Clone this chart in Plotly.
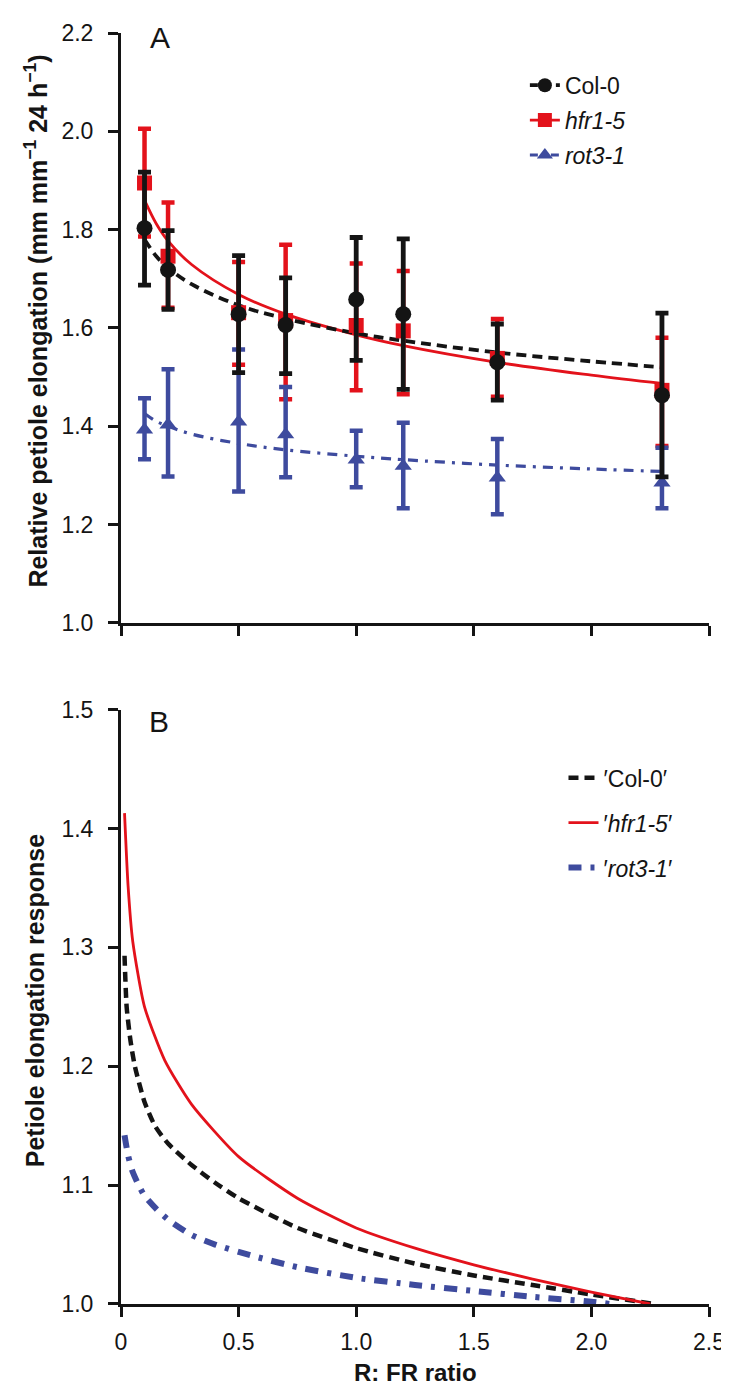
import plotly.graph_objects as go

# ---------------- Panel A data ----------------
r_fr = [0.1, 0.2, 0.5, 0.7, 1.0, 1.2, 1.6, 2.3]

col0_mean = [1.803, 1.718, 1.628, 1.606, 1.658, 1.628, 1.530, 1.463]
col0_upper = [1.917, 1.798, 1.747, 1.702, 1.784, 1.781, 1.608, 1.630]
col0_lower = [1.687, 1.638, 1.509, 1.507, 1.534, 1.475, 1.453, 1.297]

hfr_mean = [1.895, 1.746, 1.631, 1.615, 1.605, 1.594, 1.538, 1.473]
hfr_upper = [2.005, 1.855, 1.734, 1.769, 1.731, 1.716, 1.618, 1.580]
hfr_lower = [1.786, 1.641, 1.525, 1.455, 1.473, 1.465, 1.460, 1.360]

rot_mean = [1.393, 1.403, 1.409, 1.383, 1.332, 1.319, 1.295, 1.285]
rot_upper = [1.457, 1.516, 1.556, 1.480, 1.391, 1.407, 1.374, 1.356]
rot_lower = [1.333, 1.298, 1.267, 1.296, 1.276, 1.233, 1.221, 1.233]

# fitted curves in panel A
fit_x = [0.1, 0.15, 0.2, 0.3, 0.5, 0.7, 1.0, 1.2, 1.6, 2.0, 2.3]
col0_fit = [1.780, 1.746, 1.722, 1.689, 1.646, 1.619, 1.589, 1.574, 1.550, 1.532, 1.520]
hfr_fit = [1.860, 1.812, 1.777, 1.729, 1.668, 1.628, 1.586, 1.564, 1.530, 1.504, 1.487]
rot_fit = [1.426, 1.410, 1.400, 1.384, 1.365, 1.352, 1.339, 1.332, 1.321, 1.313, 1.308]

# ---------------- Panel B data ----------------
b_col0_x = [0.015, 0.024, 0.04, 0.059, 0.1, 0.144, 0.2, 0.3, 0.4, 0.5, 0.75, 1.0, 1.25, 1.5, 1.75, 2.0, 2.27]
b_col0_y = [1.293, 1.250, 1.222, 1.200, 1.170, 1.150, 1.135, 1.117, 1.102, 1.089, 1.064, 1.047, 1.034, 1.024, 1.016, 1.008, 1.000]

b_hfr_x = [0.015, 0.03, 0.05, 0.1, 0.186, 0.3, 0.5, 0.75, 1.0, 1.25, 1.5, 1.75, 2.0, 2.25]
b_hfr_y = [1.413, 1.352, 1.305, 1.250, 1.205, 1.168, 1.124, 1.089, 1.064, 1.047, 1.033, 1.021, 1.010, 1.000]

b_rot_x = [0.015, 0.03, 0.05, 0.075, 0.1, 0.15, 0.2, 0.3, 0.4, 0.55, 0.75, 1.0, 1.25, 1.5, 1.75, 2.0, 2.08]
b_rot_y = [1.142, 1.125, 1.111, 1.100, 1.091, 1.080, 1.071, 1.058, 1.050, 1.041, 1.031, 1.022, 1.016, 1.011, 1.006, 1.002, 1.000]

a_yticks = [1.0, 1.2, 1.4, 1.6, 1.8, 2.0, 2.2]
b_yticks = [1.0, 1.1, 1.2, 1.3, 1.4, 1.5]
x_ticks = [0, 0.5, 1.0, 1.5, 2.0, 2.5]
x_ticktext = ["0", "0.5", "1.0", "1.5", "2.0", "2.5"]

BLACK = "#141414"
RED = "#e3121b"
BLUE = "#3e4b9e"
FONT = "Liberation Sans, Arial, Helvetica, sans-serif"

fig = go.Figure()

def err(mean, upper, lower):
    return ([u - m for u, m in zip(upper, mean)], [m - l for m, l in zip(mean, lower)])

# fit lines panel A
fig.add_trace(go.Scatter(x=fit_x, y=rot_fit, mode="lines", line=dict(color=BLUE, width=3.2, dash="10px,7px,3px,7px", shape="spline"),
                         showlegend=False, xaxis="x", yaxis="y"))
fig.add_trace(go.Scatter(x=fit_x, y=hfr_fit, mode="lines", line=dict(color=RED, width=2.8, shape="spline"),
                         showlegend=False, xaxis="x", yaxis="y"))
fig.add_trace(go.Scatter(x=fit_x, y=col0_fit, mode="lines", line=dict(color=BLACK, width=3.8, dash="10px,6px", shape="spline"),
                         showlegend=False, xaxis="x", yaxis="y"))

# data panel A
p, m = err(hfr_mean, hfr_upper, hfr_lower)
fig.add_trace(go.Scatter(x=r_fr, y=hfr_mean, mode="markers", marker=dict(symbol="square", size=15, color=RED),
                         error_y=dict(type="data", array=p, arrayminus=m, color=RED, thickness=4.5, width=6.5),
                         showlegend=False, xaxis="x", yaxis="y"))
p, m = err(rot_mean, rot_upper, rot_lower)
fig.add_trace(go.Scatter(x=r_fr, y=rot_mean, mode="markers", marker=dict(symbol="triangle-up", size=15, color=BLUE),
                         error_y=dict(type="data", array=p, arrayminus=m, color=BLUE, thickness=4.5, width=6.5),
                         showlegend=False, xaxis="x", yaxis="y"))
p, m = err(col0_mean, col0_upper, col0_lower)
fig.add_trace(go.Scatter(x=r_fr, y=col0_mean, mode="markers", marker=dict(symbol="circle", size=16, color=BLACK),
                         error_y=dict(type="data", array=p, arrayminus=m, color=BLACK, thickness=4.8, width=6.5),
                         showlegend=False, xaxis="x", yaxis="y"))

# legend entries panel A
fig.add_trace(go.Scatter(x=[None], y=[None], mode="lines+markers", name="Col-0", legend="legend", legendgroup="a1",
                         line=dict(color=BLACK, width=3.8, dash="8px,5px"), marker=dict(symbol="circle", size=14, color=BLACK),
                         xaxis="x", yaxis="y"))
fig.add_trace(go.Scatter(x=[None], y=[None], mode="lines+markers", name="<i>hfr1-5</i>", legend="legend", legendgroup="a2",
                         line=dict(color=RED, width=2.8), marker=dict(symbol="square", size=14, color=RED),
                         xaxis="x", yaxis="y"))
fig.add_trace(go.Scatter(x=[None], y=[None], mode="lines+markers", name="<i>rot3-1</i>", legend="legend", legendgroup="a3",
                         line=dict(color=BLUE, width=3.2, dash="8px,5px,3px,5px"), marker=dict(symbol="triangle-up", size=14, color=BLUE),
                         xaxis="x", yaxis="y"))

# panel B curves
fig.add_trace(go.Scatter(x=b_col0_x, y=b_col0_y, mode="lines", name="′Col-0′", legend="legend2", legendgroup="b1",
                         line=dict(color=BLACK, width=4.5, dash="10px,6px", shape="spline", smoothing=0.6),
                         xaxis="x2", yaxis="y2"))
fig.add_trace(go.Scatter(x=b_hfr_x, y=b_hfr_y, mode="lines", name="′<i>hfr1-5</i>′", legend="legend2", legendgroup="b2",
                         line=dict(color=RED, width=2.8, shape="spline", smoothing=0.6),
                         xaxis="x2", yaxis="y2"))
fig.add_trace(go.Scatter(x=b_rot_x, y=b_rot_y, mode="lines", name="′<i>rot3-1</i>′", legend="legend2", legendgroup="b3",
                         line=dict(color=BLUE, width=6, dash="13px,9px,4px,9px", shape="spline", smoothing=0.6),
                         xaxis="x2", yaxis="y2"))

# layout geometry
L, R, T, B = 113, 22, 15, 88
H, W = 1384, 729
PH = H - T - B
PW = W - L - R

def py(pix):
    return (H - B - pix) / PH

def px(pix):
    return (pix - L) / PW

axis_common = dict(showline=True, linewidth=3, linecolor=BLACK, ticks="outside", ticklen=10, tickwidth=3,
                   tickcolor=BLACK, showgrid=False, zeroline=False,
                   tickfont=dict(family=FONT, size=23, color=BLACK))

fig.update_layout(
    width=W, height=H,
    margin=dict(l=L, r=R, t=T, b=B),
    paper_bgcolor="white", plot_bgcolor="white",
    font=dict(family=FONT, color=BLACK, size=23),
    xaxis=dict(domain=[0, 1], anchor="y", range=[0, 2.5], tickvals=x_ticks, showticklabels=False, **axis_common),
    yaxis=dict(domain=[py(609.5), 1], anchor="x", range=[1.0, 2.2], tickvals=a_yticks, tickformat=".1f",
               ticklabelstandoff=10, **axis_common),
    xaxis2=dict(domain=[0, 1], anchor="y2", range=[0, 2.5], tickvals=x_ticks, ticktext=x_ticktext,
                ticklabelstandoff=5, **axis_common),
    yaxis2=dict(domain=[0, py(697)], anchor="x2", range=[1.0, 1.5], tickvals=b_yticks, tickformat=".1f",
                ticklabelstandoff=10, **axis_common),
    legend=dict(x=px(521), y=py(46), xanchor="left", yanchor="top", bgcolor="rgba(0,0,0,0)",
                font=dict(family=FONT, size=23, color=BLACK), traceorder="grouped", tracegroupgap=2),
    legend2=dict(x=px(560), y=py(744), xanchor="left", yanchor="top", bgcolor="rgba(0,0,0,0)",
                 font=dict(family=FONT, size=23, color=BLACK), traceorder="grouped", tracegroupgap=12),
    showlegend=True,
    annotations=[
        dict(text="A", x=px(152), y=py(20), xref="paper", yref="paper", showarrow=False,
             font=dict(family=FONT, size=30, color=BLACK), xanchor="center", yanchor="middle"),
        dict(text="B", x=px(151), y=py(709), xref="paper", yref="paper", showarrow=False,
             font=dict(family=FONT, size=30, color=BLACK), xanchor="center", yanchor="middle"),
        dict(text="<b>Relative petiole elongation (mm mm<sup>−1</sup> 24 h<sup>−1</sup>)</b>", textangle=-90,
             x=px(27), y=py(305), xref="paper", yref="paper", showarrow=False,
             font=dict(family=FONT, size=25, color=BLACK), xanchor="center", yanchor="middle"),
        dict(text="<b>Petiole elongation response</b>", textangle=-90,
             x=px(27), y=py(990), xref="paper", yref="paper", showarrow=False,
             font=dict(family=FONT, size=25, color=BLACK), xanchor="center", yanchor="middle"),
        dict(text="<b>R: FR ratio</b>", x=0.5, y=py(1365), xref="paper", yref="paper", showarrow=False,
             font=dict(family=FONT, size=24, color=BLACK), xanchor="center", yanchor="middle"),
    ],
)

fig.write_html("out.html")
